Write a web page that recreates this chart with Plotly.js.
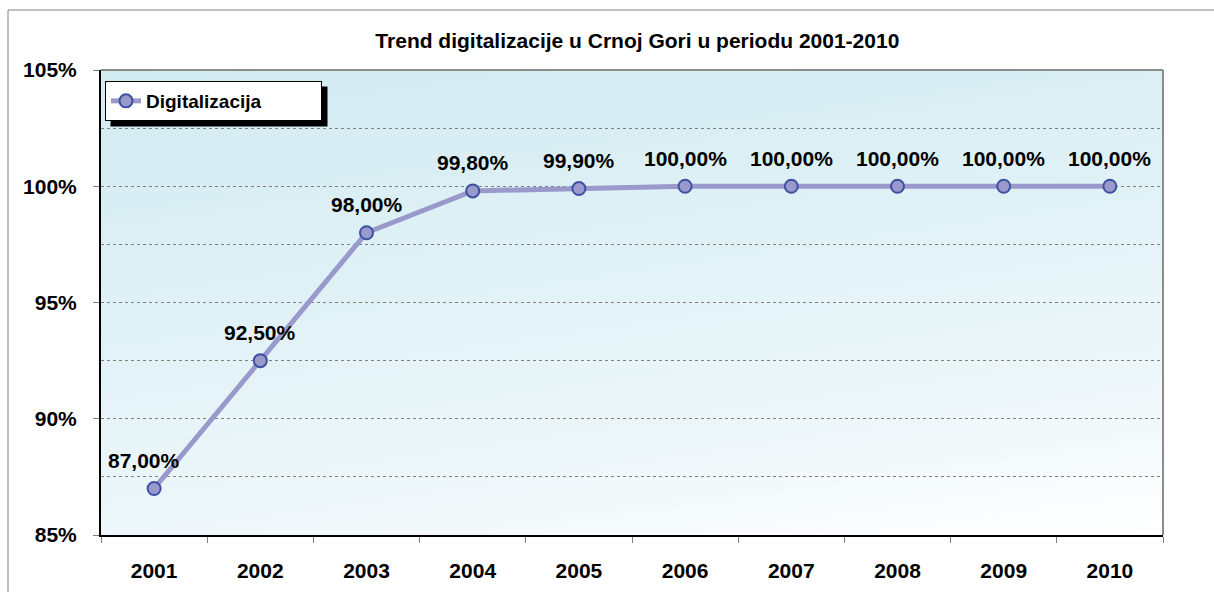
<!DOCTYPE html>
<html>
<head>
<meta charset="utf-8">
<script src="https://cdn.plot.ly/plotly-3.0.1.min.js"></script>
<style>
html,body{margin:0;padding:0;background:#fff;}
#chart{width:1214px;height:592px;}
</style>
</head>
<body>
<div id="chart"></div>
<script>
// ---- data ----
const years = ['2001','2002','2003','2004','2005','2006','2007','2008','2009','2010'];
const digitalizacija = [87.0, 92.5, 98.0, 99.8, 99.9, 100.0, 100.0, 100.0, 100.0, 100.0];
const seriesName = 'Digitalizacija';
const chartTitle = 'Trend digitalizacije u Crnoj Gori u periodu 2001-2010';
const yTickVals = [85, 90, 95, 100, 105];

// ---- layout constants ----
const W = 1214, H = 592;
const M = {l: 101, r: 51, t: 70, b: 57};
const PW = W - M.l - M.r, PH = H - M.t - M.b;
const FONT = '"Liberation Sans", Arial, sans-serif';
const px = v => (v - M.l) / PW;           // page x -> paper x
const py = v => (H - M.b - v) / PH;       // page y -> paper y

// gradient background of the plot area
const cv = document.createElement('canvas');
cv.width = PW; cv.height = PH;
const ctx = cv.getContext('2d');
const ga = 0.25 / PW, gb = 0.75 / PH, gn = ga * ga + gb * gb;
const g = ctx.createLinearGradient(0, 0, ga / gn, gb / gn);
g.addColorStop(0, '#d2ebf1');
g.addColorStop(0.4, '#dff1f6');
g.addColorStop(0.75, '#eef7fa');
g.addColorStop(1, '#ffffff');
ctx.fillStyle = g;
ctx.fillRect(0, 0, PW, PH);
const bgURL = cv.toDataURL('image/png');

const fmt = v => v.toFixed(2).replace('.', ',') + '%';

const trace = {
  type: 'scatter',
  mode: 'lines+markers',
  name: seriesName,
  x: years,
  y: digitalizacija,
  line: {color: '#9999CC', width: 5},
  marker: {size: 13, color: '#9999CC', line: {color: '#3D50A3', width: 2}},
  hoverinfo: 'skip'
};

const annotations = years.map((yr, i) => ({
  x: i, y: digitalizacija[i], xref: 'x', yref: 'y',
  text: fmt(digitalizacija[i]),
  showarrow: false, yanchor: 'middle', xanchor: 'center',
  yshift: 28, xshift: i === 0 ? -10 : 0,
  font: {family: FONT, size: 21, color: '#000', weight: 'bold'}
}));

const layout = {
  width: W, height: H,
  margin: M,
  paper_bgcolor: '#ffffff',
  plot_bgcolor: 'rgba(0,0,0,0)',
  title: {
    text: chartTitle,
    font: {family: FONT, size: 21, color: '#000', weight: 'bold'},
    x: 0.525, xanchor: 'center', y: 1 - 41 / H, yanchor: 'middle'
  },
  xaxis: {
    type: 'category',
    range: [-0.5, years.length - 0.5],
    showline: true, linecolor: '#000', linewidth: 2,
    ticks: 'outside', tickson: 'boundaries', ticklen: 6, tickcolor: '#808080', tickwidth: 1,
    showgrid: false, zeroline: false,
    tickfont: {family: FONT, size: 21, color: '#000', weight: 'bold'},
    ticklabelstandoff: 16
  },
  yaxis: {
    range: [85, 105],
    tickvals: yTickVals,
    ticktext: yTickVals.map(v => v + '%'),
    showline: true, linecolor: '#000', linewidth: 2,
    ticks: 'outside', ticklen: 6, tickcolor: '#808080', tickwidth: 1,
    showgrid: true, gridcolor: '#7f7f7f', gridwidth: 1, griddash: 'dot',
    zeroline: false,
    minor: {dtick: 2.5, tick0: 85, showgrid: true, gridcolor: '#7f7f7f', gridwidth: 1, griddash: 'dot', ticks: ''},
    tickfont: {family: FONT, size: 21, color: '#000', weight: 'bold'},
    ticklabelstandoff: 12
  },
  showlegend: true,
  legend: {
    x: px(105), y: py(81), xanchor: 'left', yanchor: 'top',
    bgcolor: '#ffffff', bordercolor: '#000', borderwidth: 1,
    orientation: 'h', entrywidth: 170,
    font: {family: FONT, size: 19, color: '#000', weight: 'bold'}
  },
  images: [{
    source: bgURL, xref: 'paper', yref: 'paper',
    x: 0, y: 1, sizex: 1, sizey: 1, sizing: 'stretch',
    xanchor: 'left', yanchor: 'top', layer: 'below'
  }],
  shapes: [
    // outer chart border
    {type: 'rect', xref: 'paper', yref: 'paper', x0: px(8), x1: px(W + 10), y0: py(H + 10), y1: py(10),
     line: {color: '#808080', width: 1}, fillcolor: 'rgba(0,0,0,0)', layer: 'below'},
    // top and right plot borders (grey)
    {type: 'line', xref: 'paper', yref: 'paper', x0: 0, x1: 1, y0: 1, y1: 1, line: {color: '#8c8c8c', width: 2}, layer: 'above'},
    {type: 'line', xref: 'paper', yref: 'paper', x0: 1, x1: 1, y0: 0, y1: 1, line: {color: '#8c8c8c', width: 2}, layer: 'above'}
  ],
  annotations: annotations
};

Plotly.newPlot('chart', [trace], layout, {displayModeBar: false, staticPlot: true}).then(gd => {
  // legend drop shadow, sized from the rendered legend box
  const bg = gd.querySelector('.legend .bg');
  if (!bg) return;
  const r = bg.getBoundingClientRect();
  const c = gd.getBoundingClientRect();
  const L = r.left - c.left, T = r.top - c.top, R = r.right - c.left, B = r.bottom - c.top;
  const shapes = layout.shapes.concat([{
    type: 'rect', xref: 'paper', yref: 'paper',
    x0: px(L + 5), x1: px(R + 6), y0: py(B + 6), y1: py(T + 5),
    fillcolor: '#000', line: {width: 0}, layer: 'above'
  }]);
  return Plotly.relayout(gd, {shapes: shapes});
});
</script>
</body>
</html>
